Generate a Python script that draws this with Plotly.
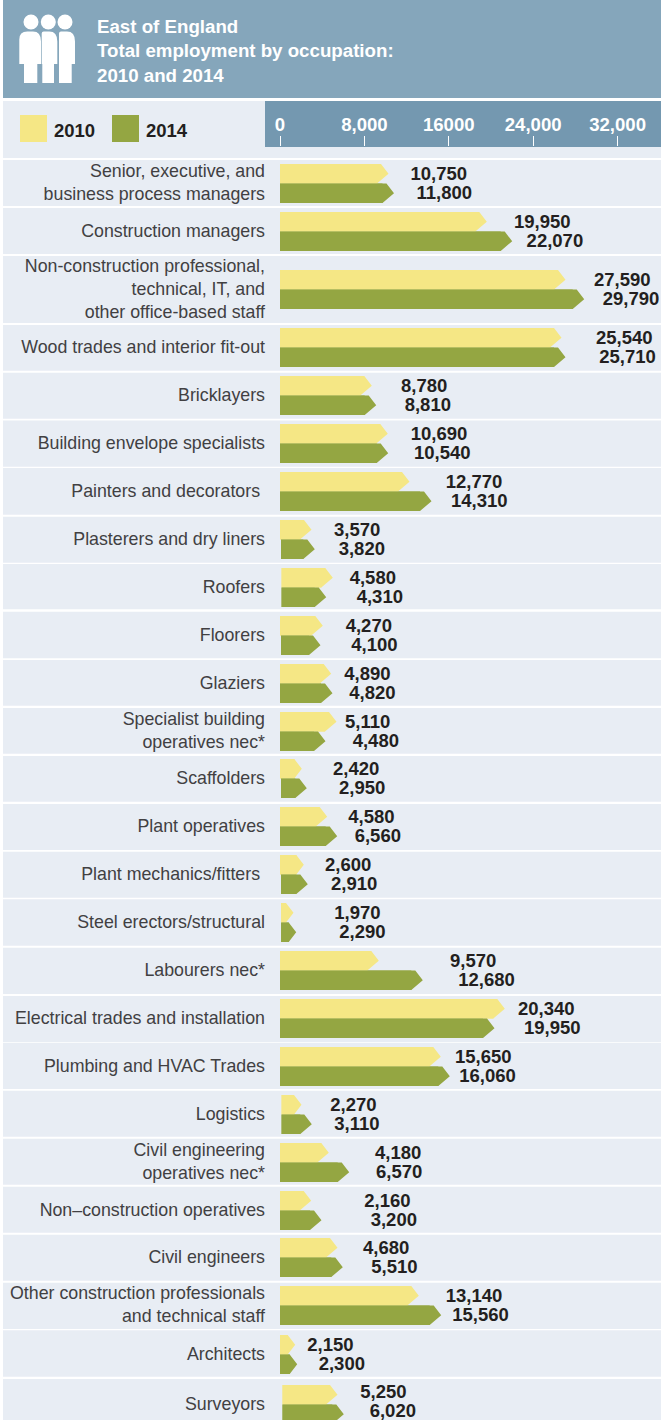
import plotly.graph_objects as go

# ---------- data ----------
categories = [
    "Senior, executive, and<br>business process managers", "Construction managers",
    "Non-construction professional,<br>technical, IT, and<br>other office-based staff",
    "Wood trades and interior fit-out", "Bricklayers", "Building envelope specialists",
    "Painters and decorators\u00a0", "Plasterers and dry liners", "Roofers", "Floorers", "Glaziers",
    "Specialist building<br>operatives nec*", "Scaffolders", "Plant operatives",
    "Plant mechanics/fitters\u00a0", "Steel erectors/structural", "Labourers nec*",
    "Electrical trades and installation", "Plumbing and HVAC Trades", "Logistics",
    "Civil engineering<br>operatives nec*", "Non\u2013construction operatives", "Civil engineers",
    "Other construction professionals<br>and technical staff", "Architects", "Surveyors",
]
values_2010 = [10750, 19950, 27590, 25540, 8780, 10690, 12770, 3570, 4580, 4270, 4890, 5110, 2420,
               4580, 2600, 1970, 9570, 20340, 15650, 2270, 4180, 2160, 4680, 13140, 2150, 5250]
values_2014 = [11800, 22070, 29790, 25710, 8810, 10540, 14310, 3820, 4310, 4100, 4820, 4480, 2950,
               6560, 2910, 2290, 12680, 19950, 16060, 3110, 6570, 3200, 5510, 15560, 2300, 6020]
# Bar lengths as drawn in the picture, read against the printed axis (they differ from the printed figures)
drawn_2010 = [10285, 19603, 27062, 26683, 8702, 10218, 12275, 2986, 5005, 4057, 4853, 5356, 2066,
              4474, 2256, 1280, 9365, 21309, 15242, 2038, 4626, 2957, 5450, 13157, 1441, 5450]
drawn_2014 = [10806, 22010, 28835, 27062, 9119, 10256, 14361, 3299, 4379, 3839, 4976, 4313, 2540,
              5422, 2635, 1536, 13536, 20333, 16095, 3014, 6560, 3934, 5953, 15280, 1630, 6048]
start_2010 = [0]*8 + [150, 0, -100, 0, 0, 0, 0, 110, 0, 0, 0, 150, 0, 0, 0, 0, 0, 240]
start_2014 = [0]*7 + [95, 150, 95, -100, 0, 95, 0, 95, 110, 0, 0, 0, 150, 0, 0, 0, 0, 0, 240]
tick_values = [0, 8000, 16000, 24000, 32000]
tick_labels = ["0", "8,000", "16000", "24,000", "32,000"]

# ---------- layout geometry (page pixels) ----------
W, H = 661, 1420
X0_PX = 280
PX_PER_UNIT = 0.01055
AXIS_TOP_PX = 147
BAR_PX = 19.5
HEAD_TOP_PX, HEAD_BOTTOM_PX = 7.5, 11.5
row_tops = [164, 212, 270, 328, 376, 424, 472, 520, 568, 616, 664, 712, 759, 807, 855, 903, 951, 999,
            1047, 1095, 1143, 1191, 1238, 1286, 1335, 1385]
band_tops = [160, 208, 256, 325, 372.7, 420.5, 468, 516.7, 564, 611.7, 660, 708, 756, 804, 851.7, 899.3,
             947.7, 996, 1042.7, 1090.7, 1138.7, 1186.7, 1234.7, 1282.7, 1330.3, 1379]
band_bots = [206, 254, 323, 370.7, 418.7, 466.7, 514.7, 562.7, 609.3, 658.3, 705.7, 753.7, 801.7, 850,
             897.7, 945.7, 994, 1042, 1089, 1136.7, 1184.7, 1232.7, 1280.7, 1329, 1376.7, 1420]
label_left_2010 = [410.5, 514, 594, 596, 401, 410.7, 445.7, 334, 349.7, 345.7, 344.3, 345, 333, 348.3,
                   325, 334.3, 450, 518, 455, 330.3, 375, 364.3, 363, 445.7, 307.3, 360.3]
label_left_2014 = [416.5, 526.6, 602.7, 599.3, 404.7, 414, 451, 338.7, 356.7, 351.3, 349.3, 352.7, 339,
                   354.7, 331, 339.3, 458.3, 524, 459.3, 334.3, 376, 370.7, 371.3, 452.3, 318.7, 369.7]
label_tops = row_tops[:-1] + [1382]

C_2010, C_2014 = "#f5e785", "#94a642"
C_HEAD, C_AXIS, C_BAND = "#85a6bb", "#7498b0", "#e8edf4"
C_TEXT, C_CAT = "#231f20", "#414042"
FONT = "Liberation Sans"

unit = lambda px: (px - X0_PX) / PX_PER_UNIT
px2 = lambda px: px / PX_PER_UNIT
centres = [t + BAR_PX for t in row_tops]
y_2010 = [c - BAR_PX / 2 for c in centres]
y_2014 = [c + BAR_PX / 2 for c in centres]
LABEL_DY = 1.5


def series(name, ys, drawn, starts, color, values, lefts, label_ys):
    bodies, hx, hy = [], [], []
    for y, d, s in zip(ys, drawn, starts):
        long_bar = d - s > px2(25)
        top = px2(HEAD_TOP_PX)
        bot = px2(HEAD_BOTTOM_PX if long_bar else HEAD_TOP_PX)
        bodies.append(d - bot - s)
        # full arrow outline, from the bar's base to its tip
        hx += [s, d - top, d, d - bot, s, s, None]
        hy += [y - BAR_PX / 2, y - BAR_PX / 2, y, y + BAR_PX / 2, y + BAR_PX / 2, y - BAR_PX / 2, None]
    body = go.Bar(name=name, orientation="h", y=ys, x=bodies, base=starts, width=BAR_PX,
                  marker=dict(color=color, opacity=1, line=dict(width=0)), showlegend=False, hoverinfo="skip")
    tip = go.Scatter(x=hx, y=hy, mode="lines", fill="toself", fillcolor=color, line=dict(width=0),
                     opacity=1, showlegend=False, hoverinfo="skip")
    text = go.Scatter(x=[unit(l) for l in lefts], y=[v + LABEL_DY for v in label_ys], mode="text",
                      text=[f"{v:,}" for v in values], textposition="middle right", cliponaxis=False,
                      showlegend=False, hoverinfo="skip",
                      textfont=dict(family=FONT, size=18.5, color=C_TEXT, weight="bold"))
    return [body, tip, text]


fig = go.Figure()
for tr in series("2010", y_2010, drawn_2010, start_2010, C_2010, values_2010, label_left_2010,
                 [t + BAR_PX / 2 for t in label_tops]):
    fig.add_trace(tr)
for tr in series("2014", y_2014, drawn_2014, start_2014, C_2014, values_2014, label_left_2014,
                 [t + BAR_PX * 1.5 for t in label_tops]):
    fig.add_trace(tr)

px_x = lambda p: (p - X0_PX) / (W - X0_PX)                 # page px -> paper x
px_y = lambda p: (H - p) / (H - AXIS_TOP_PX)               # page px -> paper y


def rect(x0, y0, x1, y1, color):
    return dict(type="rect", xref="paper", yref="paper", x0=px_x(x0), x1=px_x(x1), y0=px_y(y0), y1=px_y(y1),
                fillcolor=color, line=dict(width=0), layer="below")


shapes = [rect(3, 0, W, 98, C_HEAD), rect(3, 101, W, 158, C_BAND), rect(265, 101, W, 147, C_AXIS),
          rect(20, 115, 47, 142, C_2010), rect(112, 115, 139, 142, C_2014)]
for t, b in zip(band_tops, band_bots):
    shapes.append(rect(3, t, W, b, C_BAND))


# people icon: left/right body edges, leg edges, head centre, left shoulder radius
def person(xl, xr, ll, lr, hx, rl):
    top, arm, foot = 31.5, 64, 83
    pts = [("M", xl, top + rl), ("Q", xl, top, xl + rl, top), ("L", xr - 8, top), ("Q", xr, top, xr, top + 10),
           ("L", xr, arm), ("L", lr, arm), ("L", lr, foot), ("L", ll, foot), ("L", ll, arm), ("L", xl, arm)]
    d = ""
    for p in pts:
        coords = p[1:]
        d += p[0] + " " + " ".join(
            f"{px_x(c) if i % 2 == 0 else px_y(c):.5f}" for i, c in enumerate(coords)) + " "
    shapes.append(dict(type="path", xref="paper", yref="paper", path=d + "Z", fillcolor="white",
                       line=dict(width=0), layer="below"))
    shapes.append(dict(type="circle", xref="paper", yref="paper", x0=px_x(hx - 7.5), x1=px_x(hx + 7.5),
                       y0=px_y(29.5), y1=px_y(14.5), fillcolor="white", line=dict(width=0), layer="below"))


person(19.3, 41, 24, 37.3, 31, 8)
person(41.7, 57.3, 42.3, 54, 48.3, 2)
person(59, 75, 59, 71.7, 65, 2)

annotations = [
    dict(xref="paper", yref="paper", x=px_x(51.5), y=px_y(130), text="2010", showarrow=False, xanchor="left",
         yanchor="middle", font=dict(family=FONT, size=18.5, color=C_TEXT, weight="bold")),
    dict(xref="paper", yref="paper", x=px_x(143.5), y=px_y(130), text="2014", showarrow=False, xanchor="left",
         yanchor="middle", font=dict(family=FONT, size=18.5, color=C_TEXT, weight="bold")),
]

fig.update_layout(
    width=W, height=H, autosize=False, barmode="overlay", showlegend=False,
    paper_bgcolor="white", plot_bgcolor="rgba(0,0,0,0)",
    margin=dict(l=X0_PX, r=0, t=AXIS_TOP_PX, b=0, pad=0),
    title=dict(text="<b>East of England<br>Total employment by occupation:<br>2010 and 2014</b>",
               x=97 / W, xanchor="left", xref="container", y=1 - 33 / H, yanchor="top", yref="container",
               font=dict(family=FONT, size=18.7, color="white")),
    font=dict(family=FONT),
    shapes=shapes, annotations=annotations,
    xaxis=dict(side="top", range=[0, (W - X0_PX) / PX_PER_UNIT], tickmode="array", tickvals=tick_values,
               ticktext=tick_labels, ticks="outside", ticklen=10, tickwidth=1, tickcolor="white",
               ticklabelstandoff=-2,
               tickfont=dict(family=FONT, size=18.6, color="white", weight="bold"), showgrid=False,
               zeroline=False, showline=False, fixedrange=True),
    yaxis=dict(range=[H, AXIS_TOP_PX], tickmode="array", tickvals=[c - 1 for c in centres], ticktext=categories,
               ticks="", ticklabelstandoff=14, tickfont=dict(family=FONT, size=17.8, color=C_CAT), showgrid=False,
               zeroline=False, showline=False, fixedrange=True),
)

fig.write_html("out.html", post_script="document.body.style.margin='0';document.documentElement.style.overflow='hidden';",
               config=dict(displayModeBar=False))
